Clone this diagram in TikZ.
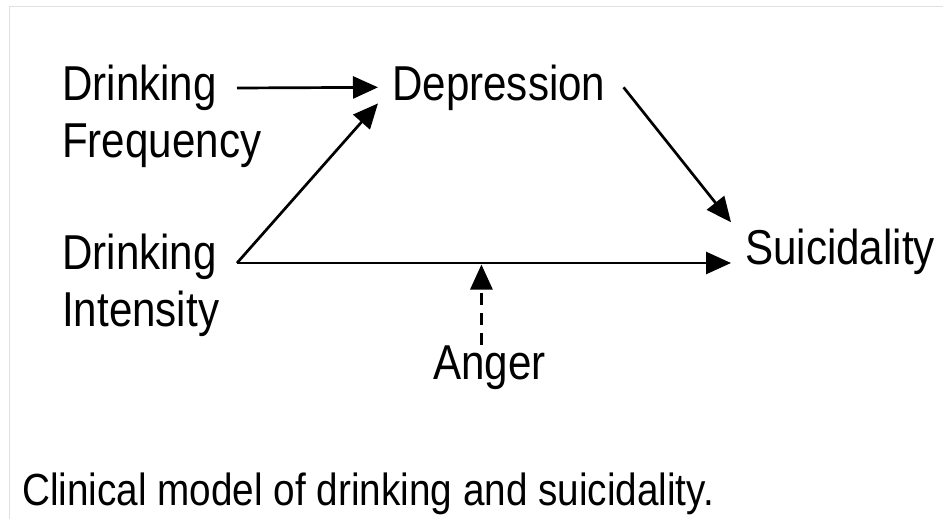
\documentclass[tikz,border=0pt]{standalone}
\usepackage{fontspec}
\setmainfont[FakeStretch=0.86]{Liberation Sans}
\usetikzlibrary{arrows.meta}
\begin{document}
\begin{tikzpicture}[x=1pt, y=-1pt,
  lbl/.style={inner sep=0pt, anchor=base west, align=left,
    font=\fontsize{49}{57}\selectfont},
  arr/.style={line width=2.7pt, -{Triangle[length=25pt,width=22pt]}},
  modarr/.style={arr, dash pattern=on 12pt off 8pt}]
  % page and thin frame
  \fill[white] (0,0) rectangle (943,519);
  \useasboundingbox (0,0) rectangle (943,519);
  \draw[black!12, line width=1pt] (9,519) -- (9,7) -- (943,7);

  % variables (two-line labels are anchored on their last line)
  \node[lbl] (freq) at (62,157) {Drinking\\Frequency};
  \node[lbl] (inten) at (62,326) {Drinking\\Intensity};
  \node[lbl, inner xsep=14pt] (dep) at (378,100) {Depression};
  \node[lbl, inner xsep=14pt] (sui) at (731,264) {Suicidality};
  \node[lbl] (anger) at (433,379) {Anger};
  \node[lbl, font=\fontsize{45}{52}\selectfont] (cap) at (22,505)
    {Clinical model of drinking and suicidality.};

  % ports of the two drinking measures
  \coordinate (freq-out) at (237,88);
  \coordinate (inten-out) at (237,263);

  % paths
  \draw[arr] (freq-out) -- (dep.west);
  \draw[arr] (inten-out) -- ([yshift=7pt]dep.south west);
  \draw[arr] ([xshift=4pt]dep.east) -- ([yshift=6pt]sui.north west);
  \draw[arr] (inten-out) -- (inten-out -| sui.west);

  % moderation by anger
  \coordinate (mod) at ([xshift=-8pt]anger.north |- inten-out);
  \draw[modarr] ([xshift=-8pt]anger.north) -- ([yshift=-1.5pt]mod);
\end{tikzpicture}
\end{document}
